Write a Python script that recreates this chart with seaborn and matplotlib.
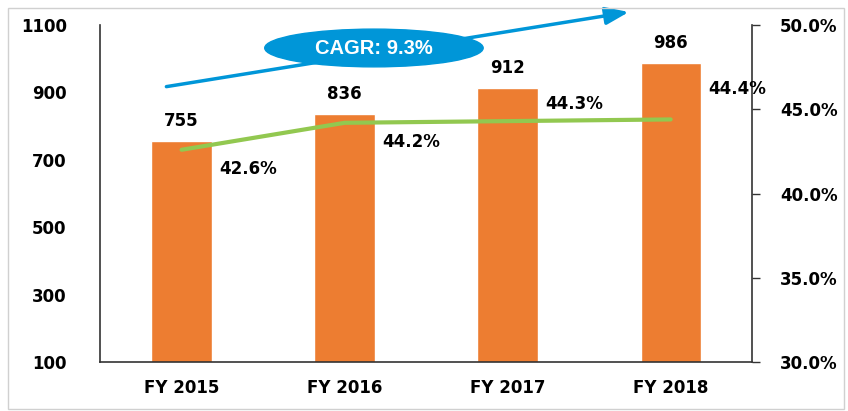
import numpy as np
import pandas as pd
import matplotlib
matplotlib.use("Agg")
import matplotlib.pyplot as plt
from matplotlib.patches import Ellipse, Rectangle
import seaborn as sns

years = ["FY 2015", "FY 2016", "FY 2017", "FY 2018"]
revenue = [755, 836, 912, 986]
margin = [42.6, 44.2, 44.3, 44.4]
cagr_text = "CAGR: 9.3%"

bar_color = "#ED7D31"
line_color = "#92C850"
cagr_color = "#0096D8"

sns.set_style("white")
plt.rcParams["font.family"] = ["DejaVu Sans"]
plt.rcParams["text.color"] = "black"
plt.rcParams["xtick.color"] = "black"
plt.rcParams["ytick.color"] = "black"

fig = plt.figure(figsize=(8.48, 4.11), dpi=100)
ax = fig.add_axes([0.118, 0.119, 0.769, 0.820])

df = pd.DataFrame({"year": years, "revenue": revenue})
sns.barplot(data=df, x="year", y="revenue", color=bar_color, width=0.37,
            saturation=1, ax=ax)
ax.set_ylim(100, 1100)
ax.set_xlim(-0.5, 3.5)
ax.set_yticks([100, 300, 500, 700, 900, 1100])
ax.set_xlabel("")
ax.set_ylabel("")
for s in ["top", "right"]:
    ax.spines[s].set_visible(False)
for s in ["left", "bottom"]:
    ax.spines[s].set_color("#333333")
    ax.spines[s].set_linewidth(1.2)
ax.tick_params(axis="y", length=0, pad=24, labelsize=12)
ax.tick_params(axis="x", length=0, pad=12, labelsize=12)
for lab in ax.get_xticklabels() + ax.get_yticklabels():
    lab.set_fontweight("bold")

# value labels above bars
for i, v in enumerate(revenue):
    ax.annotate(str(v), (i, v), xytext=(0, 8), textcoords="offset points",
                ha="center", va="bottom", fontsize=12, fontweight="bold")

# margin line on right axis
ax2 = ax.twinx()
sns.lineplot(x=np.arange(len(years)), y=margin, color=line_color,
             linewidth=3, ax=ax2)
ax2.set_ylim(30, 50)
ax2.set_yticks([30, 35, 40, 45, 50])
ax2.set_yticklabels([f"{t:.1f}%" for t in [30, 35, 40, 45, 50]])
for s in ["top", "left", "bottom"]:
    ax2.spines[s].set_visible(False)
ax2.spines["right"].set_color("#333333")
ax2.spines["right"].set_linewidth(1.2)
ax2.tick_params(axis="y", length=6, width=1, color="#333333", pad=14,
                labelsize=12)
for lab in ax2.get_yticklabels():
    lab.set_fontweight("bold")

offsets = [(48, -14), (48, -14), (48, 12), (48, 22)]
for i, (m, off) in enumerate(zip(margin, offsets)):
    ax2.annotate(f"{m:.1f}%", (i, m), xytext=off, textcoords="offset points",
                 ha="center", va="center", fontsize=12, fontweight="bold")

# CAGR arrow and badge
ax.annotate("", xy=(2.76, 1140), xytext=(-0.11, 916),
            arrowprops=dict(arrowstyle="-|>,head_length=1.0,head_width=0.38",
                            color=cagr_color, lw=2.5, mutation_scale=14),
            annotation_clip=False)
ell = Ellipse((1.18, 1032), width=1.34, height=112, color=cagr_color,
              clip_on=False, zorder=5)
ax.add_patch(ell)
ax.text(1.18, 1030, cagr_text, ha="center", va="center", color="white",
        fontsize=14.5, fontweight="bold", family=["Liberation Sans"], zorder=6)

fig.patches.append(Rectangle((0.01, 0.005), 0.985, 0.975, transform=fig.transFigure,
                             fill=False, edgecolor="#D0D0D0", linewidth=1))

fig.savefig("out.png", dpi=100)
